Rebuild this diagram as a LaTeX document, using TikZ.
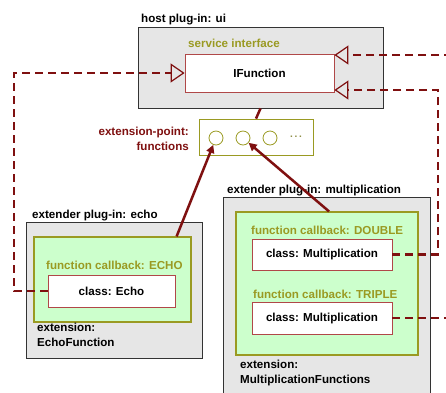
\documentclass[tikz,border=0pt]{standalone}
\usepackage{fontspec}
\setmainfont{Liberation Sans}
\usepackage{xcolor}
\definecolor{DarkGrey}{HTML}{333333}
\definecolor{LightGrey}{HTML}{E6E6E6}
\definecolor{Olive}{HTML}{9A9A22}
\definecolor{PaleGreen}{HTML}{CCFFCC}
\definecolor{BoxRed}{HTML}{B04848}
\definecolor{DarkRed}{HTML}{7F1010}
\usepackage{tikz}
\usetikzlibrary{calc,arrows.meta,positioning}
\newcommand\LabelFont{\bfseries\fontsize{11.6}{15}\selectfont}
\tikzstyle{plugin}=[rectangle,draw=DarkGrey,fill=LightGrey,line width=0.8pt]
\tikzstyle{callback}=[rectangle,draw=Olive,fill=PaleGreen,line width=1.2pt]
\tikzstyle{classbox}=[rectangle,draw=BoxRed,fill=white,line width=0.8pt,
                     text centered,font=\LabelFont]
\tikzstyle{plugtext}=[anchor=base west,inner sep=0pt,font=\LabelFont,text=black]
\tikzstyle{cbtext}=[plugtext,text=Olive]
\tikzstyle{slot}=[circle,draw=Olive,fill=white,line width=0.8pt,
                     minimum size=14pt,inner sep=0pt]
\tikzstyle{implements}=[DarkRed,line width=2.5pt,dash pattern=on 8pt off 5pt,
                     -{Triangle[open,length=14pt,width=19pt,line width=1.2pt]}]
\tikzstyle{extends}=[DarkRed,line width=2.5pt,-{Triangle[length=8pt,width=8pt]}]
\begin{document}
\begin{tikzpicture}[x=1pt,y=-1pt]
      \useasboundingbox[fill=white] (0,0) rectangle (446,392);
      \clip (0,0) rectangle (446,392);
      % host plug-in
      \node[plugin] (host) at (260.5,67.5) [minimum width=245pt,minimum height=81pt] {};
      \node[plugtext] (hosttext) at (141,22) {host plug-in: ui};
      \node[cbtext] (sitext) at (188,47) {service interface};
      \node[classbox] (ifunc) at (259.5,73) [minimum width=149pt,minimum height=38pt] {IFunction};
      % extension point
      \node[rectangle,draw=Olive,fill=white,line width=0.8pt] (ep) at (256,137)
            [minimum width=114pt,minimum height=36pt] {};
      \node[slot] (c1) at (216,138) {};
      \node[slot] (c2) at (243,138) {};
      \node[slot] (c3) at (270,138) {};
      \node[text=Olive!60!gray] (more) at (296,137) {\bfseries .\,.\,.};
      \node[anchor=east,align=right,inner sep=0pt,font=\LabelFont,text=DarkRed] (eptext)
            at (189,139) {extension-point:\\functions};
      % extender plug-in: echo
      \node[plugin] (echo) at (114,290) [minimum width=176pt,minimum height=136pt] {};
      \node[plugtext] (echotext) at (32,218) {extender plug-in: echo};
      \node[callback] (echocb) at (112.5,279.5) [minimum width=157pt,minimum height=85pt] {};
      \node[cbtext] (echocbtext) at (46,269) {function callback: ECHO};
      \node[classbox] (echocls) at (111.5,291) [minimum width=127pt,minimum height=32pt] {class: Echo};
      \node[anchor=north west,align=left,inner sep=0pt,font=\LabelFont] (echoext)
            at (37,323) {extension:\\EchoFunction};
      % extender plug-in: multiplication
      \node[plugin] (mult) at (326.5,298.5) [minimum width=207pt,minimum height=203pt] {};
      \node[plugtext] (multtext) at (227,193) {extender plug-in: multiplication};
      \node[callback] (multcb) at (327,283.5) [minimum width=182pt,minimum height=143pt] {};
      \node[cbtext] (dbltext) at (251,234) {function callback: DOUBLE};
      \node[classbox] (dblcls) at (322,254.5) [minimum width=140pt,minimum height=31pt] {class: Multiplication};
      \node[cbtext] (trptext) at (253,298) {function callback: TRIPLE};
      \node[classbox] (trpcls) at (322,318) [minimum width=140pt,minimum height=32pt] {class: Multiplication};
      \node[anchor=north west,align=left,inner sep=0pt,font=\LabelFont] (multext)
            at (240,360) {extension:\\MultiplicationFunctions};
      % connectors
      \coordinate (ltrack) at (14,0);
      \coordinate (rtrack) at (438,0);
      \coordinate (redge) at (452,0);
      \draw[DarkRed,line width=2.5pt] (host.south) -- (ep.north);
      \draw[extends] ($(echocb.north east)+(-15,0)$) -- (c1);
      \draw[extends] ($(multcb.north)+(2,0)$) -- (c2);
      \draw[implements] (echocls.west) -| (ltrack |- ifunc.west) -- (ifunc.west);
      \draw[implements] (dblcls.east) -| (rtrack |- {$(ifunc.east)+(0,17)$}) -- ($(ifunc.east)+(0,17)$);
      \draw[implements] (redge |- {$(ifunc.east)+(0,-18)$}) -- ($(ifunc.east)+(0,-18)$);
      \draw[DarkRed,line width=2.5pt,dash pattern=on 8pt off 5pt] (trpcls.east) -- (redge |- trpcls.east);
   \end{tikzpicture}
\end{document}
